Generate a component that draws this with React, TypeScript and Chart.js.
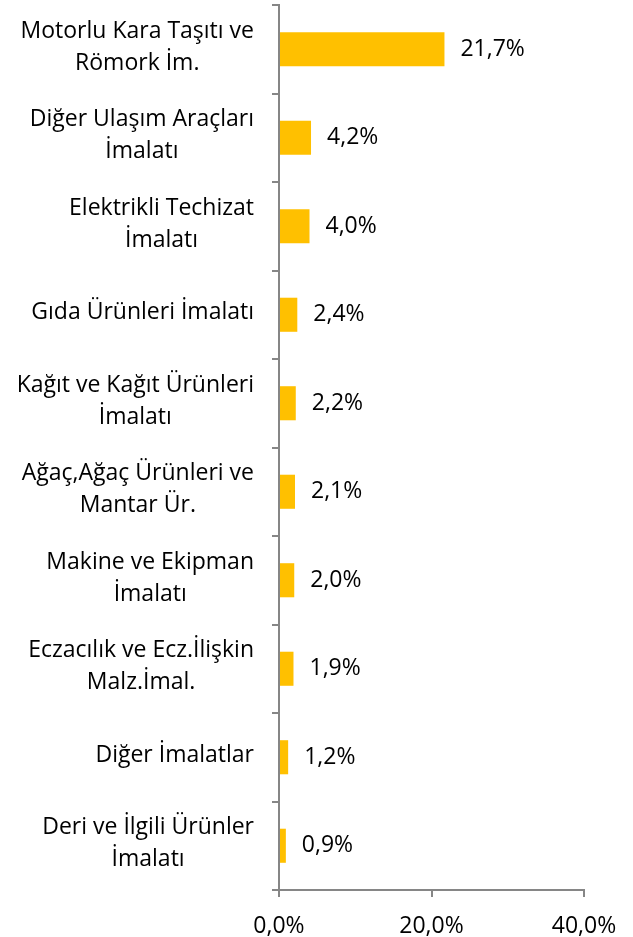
import React, { useEffect, useRef } from "react";
import { Chart, registerables } from "chart.js";

Chart.register(...registerables);

const categories: string[][] = [
  ["Motorlu Kara Taşıtı ve", "Römork İm."],
  ["Diğer Ulaşım Araçları", "İmalatı"],
  ["Elektrikli Techizat", "İmalatı"],
  ["Gıda Ürünleri İmalatı"],
  ["Kağıt ve Kağıt Ürünleri", "İmalatı"],
  ["Ağaç,Ağaç Ürünleri ve", "Mantar Ür."],
  ["Makine ve Ekipman", "İmalatı"],
  ["Eczacılık ve Ecz.İlişkin", "Malz.İmal."],
  ["Diğer İmalatlar"],
  ["Deri ve İlgili Ürünler", "İmalatı"],
];

const values: number[] = [21.7, 4.2, 4.0, 2.4, 2.2, 2.1, 2.0, 1.9, 1.2, 0.9];

const xTicks: number[] = [0, 20, 40];

const FONT = "'Open Sans', sans-serif";
const FONT_SIZE = 23;
const AXIS_COLOR = "#868686";
const BAR_COLOR = "#FFC000";

const fmt = (v: number) => v.toFixed(1).replace(".", ",") + "%";

const labelsPlugin = {
  id: "customLabels",
  afterDraw(chart: any) {
    const ctx = chart.ctx;
    const yScale = chart.scales.y;
    const meta = chart.getDatasetMeta(0);
    ctx.save();
    ctx.font = `${FONT_SIZE}px ${FONT}`;
    ctx.fillStyle = "#000000";
    ctx.textBaseline = "middle";
    // data labels
    ctx.textAlign = "left";
    meta.data.forEach((bar: any, i: number) => {
      ctx.fillText(fmt(values[i]), bar.x + 16, bar.y);
    });
    // category labels: right-aligned block, lines centered within block
    const rightEdge = yScale.right - 25;
    const lineH = 32;
    categories.forEach((lines, i) => {
      const cy = yScale.getPixelForValue(i);
      const widths = lines.map((l) => ctx.measureText(l).width);
      const blockW = Math.max(...widths);
      const cx = rightEdge - blockW / 2;
      ctx.textAlign = "center";
      const startY = cy - ((lines.length - 1) * lineH) / 2;
      lines.forEach((l, j) => {
        ctx.fillText(l, cx, startY + j * lineH - 2);
      });
    });
    ctx.restore();
  },
};

export default function App() {
  const ref = useRef<HTMLCanvasElement>(null);
  useEffect(() => {
    document.body.style.margin = "0";
    const chart = new Chart(ref.current!, {
      type: "bar",
      data: {
        labels: categories.map((c) => c.join(" ")),
        datasets: [
          {
            data: values,
            backgroundColor: BAR_COLOR,
            borderWidth: 0,
            categoryPercentage: 1,
            barPercentage: 0.385,
          },
        ],
      },
      options: {
        indexAxis: "y",
        responsive: false,
        animation: false,
        maintainAspectRatio: false,
        layout: { padding: { top: 5, right: 49, left: 0, bottom: 0 } },
        plugins: {
          legend: { display: false },
          tooltip: { enabled: false },
        },
        scales: {
          x: {
            min: 0,
            max: 40,
            afterBuildTicks: (scale: any) => {
              scale.ticks = xTicks.map((v) => ({ value: v }));
            },
            afterFit: (scale: any) => {
              scale.height = 47;
            },
            grid: {
              drawOnChartArea: false,
              drawTicks: true,
              tickLength: 7,
              color: AXIS_COLOR,
              lineWidth: 2,
            },
            border: { color: AXIS_COLOR, width: 2 },
            ticks: {
              color: "#000000",
              font: { family: FONT, size: FONT_SIZE },
              padding: 16,
              maxRotation: 0,
              callback: (v: any) => fmt(Number(v)),
            },
          },
          y: {
            afterFit: (scale: any) => {
              scale.width = 279;
            },
            grid: {
              drawOnChartArea: false,
              drawTicks: true,
              tickLength: 7,
              offset: true,
              color: AXIS_COLOR,
              lineWidth: 2,
            },
            border: { color: AXIS_COLOR, width: 2 },
            ticks: {
              display: false,
            },
          },
        },
      },
      plugins: [labelsPlugin],
    } as any);
    return () => chart.destroy();
  }, []);
  return (
    <div style={{ width: 633, height: 937 }}>
      <canvas ref={ref} width={633} height={937} style={{ display: "block" }} />
    </div>
  );
}
